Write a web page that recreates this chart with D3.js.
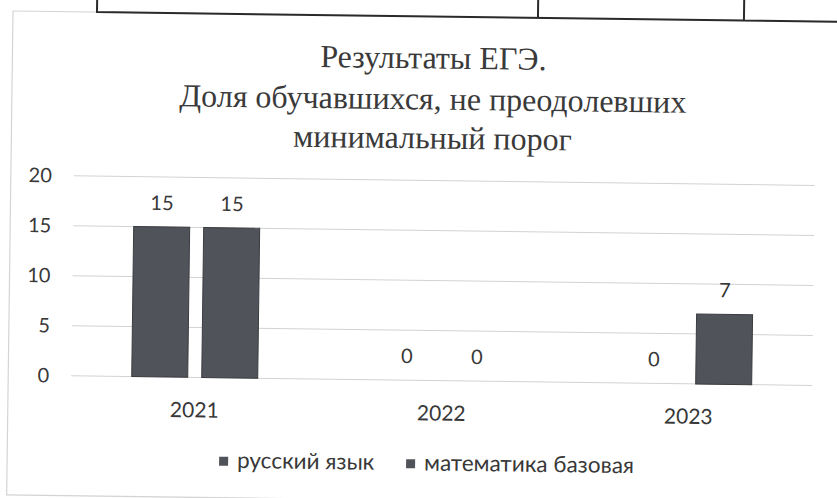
<!DOCTYPE html>
<html>
<head>
<meta charset="utf-8">
<script src="https://cdn.jsdelivr.net/npm/d3@7"></script>
<style>
  body { margin: 0; background: #fff; }
  svg { display: block; }
</style>
</head>
<body>
<script>
// данные диаграммы
const years = ["2021", "2022", "2023"];
const seriesNames = ["русский язык", "математика базовая"];
const russian = [15, 0, 0];
const mathBase = [15, 0, 7];
const yTicks = [0, 5, 10, 15, 20];
const titleLines = ["Результаты ЕГЭ.", "Доля обучавшихся, не преодолевших", "минимальный порог"];

const width = 837;
const height = 498;

const svg = d3.select("body").append("svg")
    .attr("width", width)
    .attr("height", height);

svg.append("rect")
    .attr("width", width)
    .attr("height", height)
    .attr("fill", "#fff");

// скан немного повёрнут
const page = svg.append("g").attr("transform", "rotate(0.75, 13, 11)");

// рамка области диаграммы
page.append("rect")
    .attr("x", 13)
    .attr("y", 11)
    .attr("width", 840)
    .attr("height", 484)
    .attr("fill", "none")
    .attr("stroke", "#d4d4d4")
    .attr("stroke-width", 1.2);

// линии таблицы сверху
page.append("path")
    .attr("d", "M97,-20V11H860M538,-20V11M744,-20V11")
    .attr("fill", "none")
    .attr("stroke", "#2a2a2a")
    .attr("stroke-width", 2);

// заголовок
const titleSpacing = [63, 104, 143];
page.append("text")
    .attr("x", 434)
    .attr("font-family", "'Liberation Serif', 'DejaVu Serif', serif")
    .attr("font-size", 32)
    .attr("fill", "#3a3a3a")
    .attr("text-anchor", "middle")
    .selectAll("tspan")
    .data(titleLines)
    .enter()
    .append("tspan")
    .attr("x", 434)
    .attr("y", (d, i) => titleSpacing[i])
    .text(d => d);

// шкалы
const x0 = d3.scaleBand()
    .domain(years)
    .range([76, 817]);

const x1 = d3.scaleBand()
    .domain(seriesNames)
    .range([60.5, 186.5])
    .paddingInner(0.2);

const y = d3.scaleLinear()
    .domain([0, 20])
    .range([375, 175]);

// сетка
page.append("g")
    .selectAll("line")
    .data(yTicks)
    .enter()
    .append("line")
    .attr("x1", 76)
    .attr("x2", 817)
    .attr("y1", d => y(d))
    .attr("y2", d => y(d))
    .attr("stroke", "#d2d2d2")
    .attr("stroke-width", 1);

const axisFont = "Lato, 'Open Sans', sans-serif";
const textColor = "#383838";

// ось Y
const yAxis = page.append("g")
    .attr("transform", "translate(54,0)")
    .call(d3.axisLeft(y).tickValues(yTicks).tickSize(0).tickPadding(0));
yAxis.select(".domain").remove();
yAxis.selectAll("text")
    .attr("font-family", axisFont)
    .attr("font-size", 20)
    .attr("fill", textColor);

// ось X
const xAxis = page.append("g")
    .attr("transform", "translate(0,375)")
    .call(d3.axisBottom(x0).tickSize(0).tickPadding(25));
xAxis.select(".domain").remove();
xAxis.selectAll("text")
    .attr("font-family", axisFont)
    .attr("font-size", 21)
    .attr("fill", textColor);

// столбцы
const rows = years.map((yr, i) => ({
    year: yr,
    values: [
        { name: seriesNames[0], value: russian[i] },
        { name: seriesNames[1], value: mathBase[i] }
    ]
}));

const barColor = "#505359";

const groups = page.append("g")
    .selectAll("g")
    .data(rows)
    .enter()
    .append("g")
    .attr("transform", d => `translate(${x0(d.year)},0)`);

groups.selectAll("rect")
    .data(d => d.values)
    .enter()
    .append("rect")
    .attr("x", d => x1(d.name))
    .attr("y", d => y(d.value))
    .attr("width", x1.bandwidth())
    .attr("height", d => y(0) - y(d.value))
    .attr("fill", barColor)
    .attr("stroke", "#3a3c40")
    .attr("stroke-width", 1)
    .style("display", d => d.value > 0 ? null : "none");

// подписи значений
groups.selectAll("text")
    .data(d => d.values)
    .enter()
    .append("text")
    .attr("x", d => x1(d.name) + x1.bandwidth() / 2)
    .attr("y", d => y(d.value) - 17)
    .attr("text-anchor", "middle")
    .attr("font-family", axisFont)
    .attr("font-size", 20)
    .attr("fill", textColor)
    .text(d => d.value);

// легенда
const legendX = [225, 412];
const legend = page.append("g")
    .selectAll("g")
    .data(seriesNames)
    .enter()
    .append("g")
    .attr("transform", (d, i) => `translate(${legendX[i]},454)`);

legend.append("rect")
    .attr("width", 9)
    .attr("height", 9)
    .attr("fill", barColor);

legend.append("text")
    .attr("x", 18)
    .attr("y", 11)
    .attr("font-family", axisFont)
    .attr("font-size", 22.5)
    .attr("fill", textColor)
    .text(d => d);
</script>
</body>
</html>
